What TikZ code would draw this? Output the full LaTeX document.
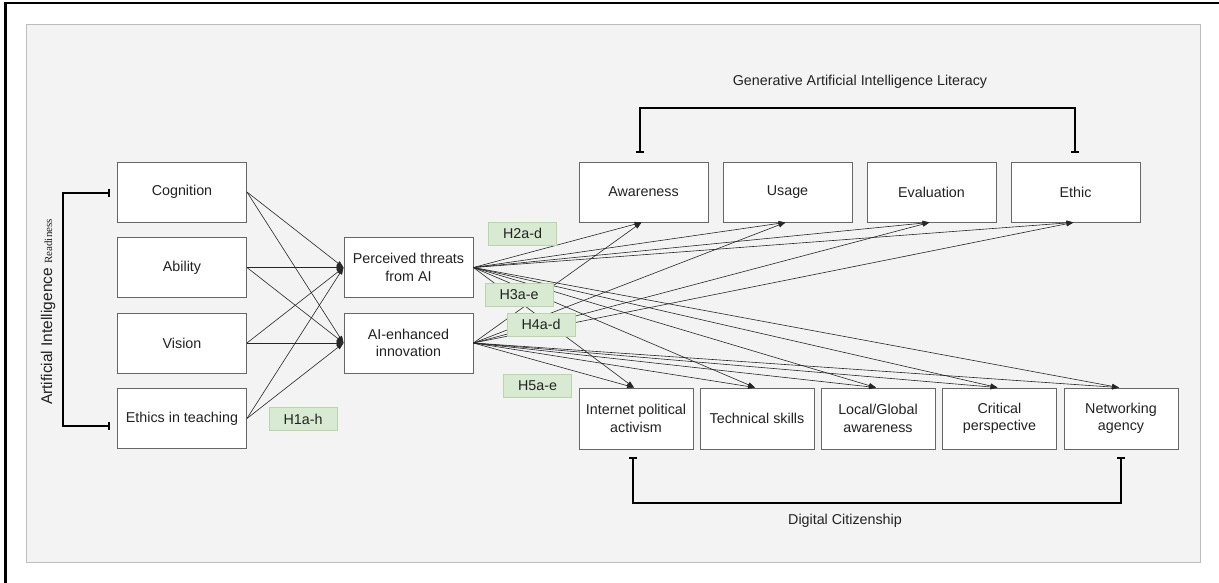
\documentclass[tikz,border=0pt]{standalone}
\usepackage{fontspec}
\setmainfont{Liberation Sans}
\newfontfamily\timesf{Liberation Serif}
\usetikzlibrary{arrows.meta,calc}
\definecolor{bggray}{HTML}{F3F3F3}
\definecolor{bgborder}{HTML}{BDBDBD}
\definecolor{boxborder}{HTML}{666666}
\definecolor{hfill}{HTML}{D9EAD3}
\definecolor{hborder}{HTML}{B6D7A8}
\definecolor{txt}{HTML}{222222}
\begin{document}
\begin{tikzpicture}[x=1pt,y=-1pt,
  every node/.style={font=\fontsize{14.3}{17.5}\selectfont, text=txt},
  box/.style={draw=boxborder, line width=0.9pt, fill=white, minimum width=129pt, minimum height=60pt, inner sep=0pt, align=center},
  bbox/.style={box, minimum width=114pt, minimum height=61pt},
  hyp/.style={draw=hborder, line width=0.8pt, fill=hfill, minimum width=68pt, minimum height=23pt, inner sep=0pt},
  link/.style={draw=black!85, line width=0.6pt, -{Triangle[length=7pt,width=5pt]}},
  brace/.style={draw=black, line width=1.8pt, {Bar[width=8pt]}-{Bar[width=8pt]}},
]
\fill[white] (0,0) rectangle (1219,583);
\useasboundingbox (0,0) rectangle (1219,583);
\draw[bgborder, fill=bggray, line width=1pt] (26,25) rectangle (1200,562);
\draw[black, line width=2.5pt] (5.7,583) -- (5.7,3) -- (1219,3);

% left boxes
\node[box] (cog) at (182,192) {Cognition};
\node[box] (abi) at (182,267.5) {Ability};
\node[box] (vis) at (182,343) {Vision};
\node[box] (eth) at (182,418.5) {Ethics in teaching};
% middle
\node[box] (pt) at (408.5,267.5) {Perceived threats\\from AI};
\node[box] (ai) at (408.5,343) {AI-enhanced\\innovation};
% top
\node[box] (aw) at (643.5,192) {Awareness};
\node[box] (us) at (787.5,192) {Usage};
\node[box] (ev) at (931.5,192) {Evaluation};
\node[box] (et) at (1075.5,192) {Ethic};
% bottom
\node[bbox] (ipa) at (636,418.5) {Internet political\\activism};
\node[bbox] (ts) at (757,418.5) {Technical skills};
\node[bbox] (lga) at (878,418.5) {Local/Global\\awareness};
\node[bbox] (cp) at (999.5,418.5) {Critical\\perspective};
\node[bbox] (na) at (1121,418.5) {Networking\\agency};

% links
\foreach \s in {cog,abi,vis,eth}{
  \foreach \t in {pt,ai}{
    \draw[link] (\s.east) -- (\t.west);
  }
}
\foreach \t in {aw,us,ev,et}{
  \draw[link] (pt.east) -- ($(\t.south)+(-2,0)$);
  \draw[link] (ai.east) -- ($(\t.south)+(-2,0)$);
}
\foreach \t in {ipa,ts,lga,cp,na}{
  \draw[link] (pt.east) -- ($(\t.north)+(-2,0)$);
  \draw[link] (ai.east) -- ($(\t.north)+(-2,0)$);
}

% hypothesis labels
\node[hyp] (h1) at (303,419) {H1a-h};
\node[hyp] (h2) at (522.5,233.5) {H2a-d};
\node[hyp] (h3) at (519,294.5) {H3a-e};
\node[hyp] (h4) at (541,324.5) {H4a-d};
\node[hyp] (h5) at (537.5,385.5) {H5a-e};

% brackets
\coordinate (lbA) at (110,193);
\coordinate (lbB) at (110,426);
\draw[brace] (lbA) -- (63,193) -- (63,426) -- (lbB);
\coordinate (tbA) at (640,153);
\coordinate (tbB) at (1075,153);
\draw[brace] (tbA) -- (640,108) -- (1075,108) -- (tbB);
\coordinate (bbA) at (633,457);
\coordinate (bbB) at (1121,457);
\draw[brace] (bbA) -- (633,503) -- (1121,503) -- (bbB);

% group titles
\node (glit) at (860,82) {Generative Artificial Intelligence Literacy};
\node (dcit) at (845,521) {Digital Citizenship};
\node[rotate=90, font=\fontsize{15.5}{18}\selectfont] (air) at (48,312) {Artificial Intelligence {\timesf\fontsize{11}{13}\selectfont Readiness}};
\end{tikzpicture}
\end{document}
